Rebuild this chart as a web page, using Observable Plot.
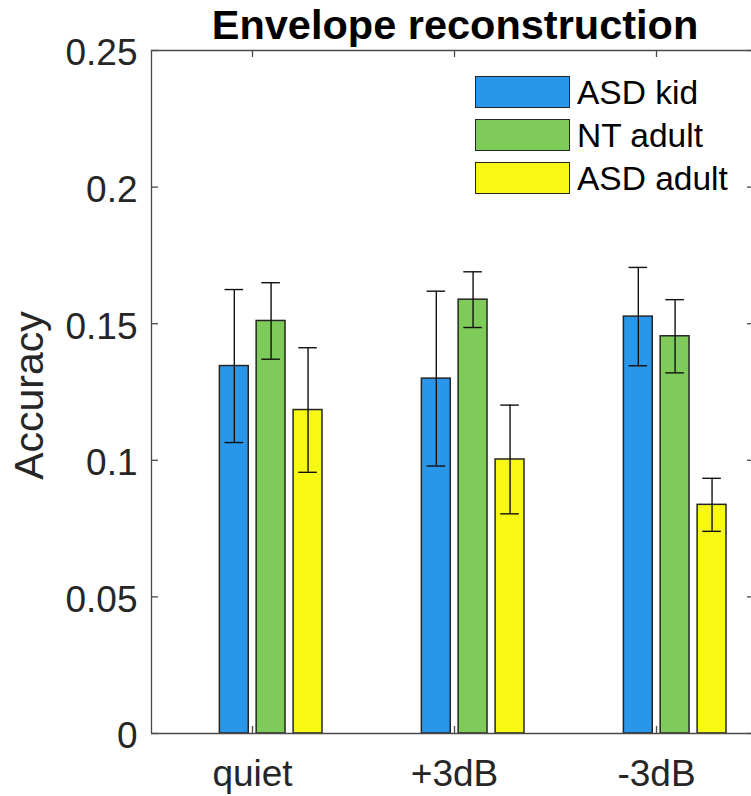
<!DOCTYPE html>
<html><head><meta charset="utf-8">
<script src="https://cdn.jsdelivr.net/npm/d3@7"></script>
<script src="https://cdn.jsdelivr.net/npm/@observablehq/plot@0.6"></script>
<style>
body{margin:0;background:#fff;}
#chart{position:relative;width:751px;height:796px;overflow:hidden;font-family:"Liberation Sans",Arial,Helvetica,sans-serif;}
.legend{position:absolute;left:475px;top:70.5px;}
.row{display:flex;align-items:center;height:43px;}
.sw{width:95px;height:32px;box-sizing:border-box;border:1.5px solid #262626;margin-right:7px;}
.lab{font-size:33.5px;color:#000;position:relative;top:1px;white-space:nowrap;}
</style></head><body><div id="chart"></div>
<script>
// ---- data ----
const title = "Envelope reconstruction";
const yLabel = "Accuracy";
const conditions = ["quiet", "+3dB", "-3dB"];
const groups = ["ASD kid", "NT adult", "ASD adult"];
const colors = ["#2a96e9", "#7ecb59", "#f8f815"];
const asdKid = [0.1345, 0.1299, 0.1526];
const asdKidErr = [0.028, 0.032, 0.018];
const ntAdult = [0.151, 0.1588, 0.1454];
const ntAdultErr = [0.014, 0.0102, 0.0134];
const asdAdult = [0.1184, 0.1003, 0.0837];
const asdAdultErr = [0.0228, 0.0199, 0.0097];
const yTicks = [0, 0.05, 0.1, 0.15, 0.2, 0.25];
const yTickLabels = ["0", "0.05", "0.1", "0.15", "0.2", "0.25"];
const xTicks = [1, 2, 3];

// ---- layout ----
const offsets = [-0.09, 0.092, 0.275];
const barW = 0.143;
const capHalf = 0.046;
const edge = "#262626";

const seriesVals = [asdKid, ntAdult, asdAdult];
const seriesErr = [asdKidErr, ntAdultErr, asdAdultErr];
const rows = [];
seriesVals.forEach((vals, s) => vals.forEach((v, i) => rows.push({
  cond: conditions[i], group: groups[s], x: xTicks[i] + offsets[s], value: v, err: seriesErr[s][i]
})));

const font = '"Liberation Sans", Arial, Helvetica, sans-serif';

const chart = Plot.plot({
  width: 751, height: 796,
  marginLeft: 151, marginRight: 0, marginTop: 50, marginBottom: 63,
  x: {domain: [0.5, 3.5], range: [151, 757]},
  y: {domain: [0, 0.25]},
  color: {domain: groups, range: colors},
  style: {fontFamily: font, color: edge, background: "white"},
  marks: [
    Plot.rect(rows, {x1: d => d.x - barW / 2, x2: d => d.x + barW / 2, y1: () => 0, y2: "value",
      fill: "group", stroke: edge, strokeWidth: 1.5}),
    Plot.ruleX(rows, {x: "x", y1: d => d.value - d.err, y2: d => d.value + d.err, stroke: "#111", strokeWidth: 1.4}),
    Plot.ruleY(rows, {y: d => d.value + d.err, x1: d => d.x - capHalf, x2: d => d.x + capHalf, stroke: "#111", strokeWidth: 1.4}),
    Plot.ruleY(rows, {y: d => d.value - d.err, x1: d => d.x - capHalf, x2: d => d.x + capHalf, stroke: "#111", strokeWidth: 1.4}),
    // box
    Plot.ruleY([0, 0.25], {stroke: "#4a4a4a", strokeWidth: 1.3}),
    Plot.ruleX([0.5], {stroke: "#4a4a4a", strokeWidth: 1.3}),
    // inward ticks
    Plot.tickY(yTicks, {y: d => d, insetRight: 593, stroke: "#4a4a4a", strokeWidth: 1.3}),
    Plot.tickY(yTicks, {y: d => d, insetLeft: 596, stroke: "#4a4a4a", strokeWidth: 1.3}),
    Plot.tickX(xTicks, {x: d => d, insetTop: 676, stroke: "#4a4a4a", strokeWidth: 1.3}),
    Plot.tickX(xTicks, {x: d => d, insetBottom: 676, stroke: "#4a4a4a", strokeWidth: 1.3}),
    // axes labels
    Plot.axisY(yTicks, {tickSize: 0, tickPadding: 14, fontSize: 37, label: null, dy: 3,
      tickFormat: d => yTickLabels[yTicks.indexOf(d)]}),
    Plot.axisX(xTicks, {tickSize: 0, tickPadding: 26, fontSize: 37, label: null,
      tickFormat: d => conditions[xTicks.indexOf(d)]}),
    Plot.text([title], {frameAnchor: "top", lineAnchor: "bottom", dy: -12, dx: 3.5,
      fontSize: 41.5, fontWeight: "bold", fill: "#000"}),
    Plot.text([yLabel], {frameAnchor: "left", textAnchor: "middle", rotate: -90, lineAnchor: "bottom",
      dx: -109, dy: 3.5, fontSize: 41, fill: edge})
  ]
});

const root = document.getElementById("chart");
root.appendChild(chart);
const legend = document.createElement("div");
legend.className = "legend";
groups.forEach((g, i) => {
  const row = document.createElement("div");
  row.className = "row";
  const sw = document.createElement("div");
  sw.className = "sw";
  sw.style.background = colors[i];
  const lab = document.createElement("span");
  lab.className = "lab";
  lab.textContent = g;
  row.appendChild(sw); row.appendChild(lab);
  legend.appendChild(row);
});
root.appendChild(legend);
</script>
</body></html>
